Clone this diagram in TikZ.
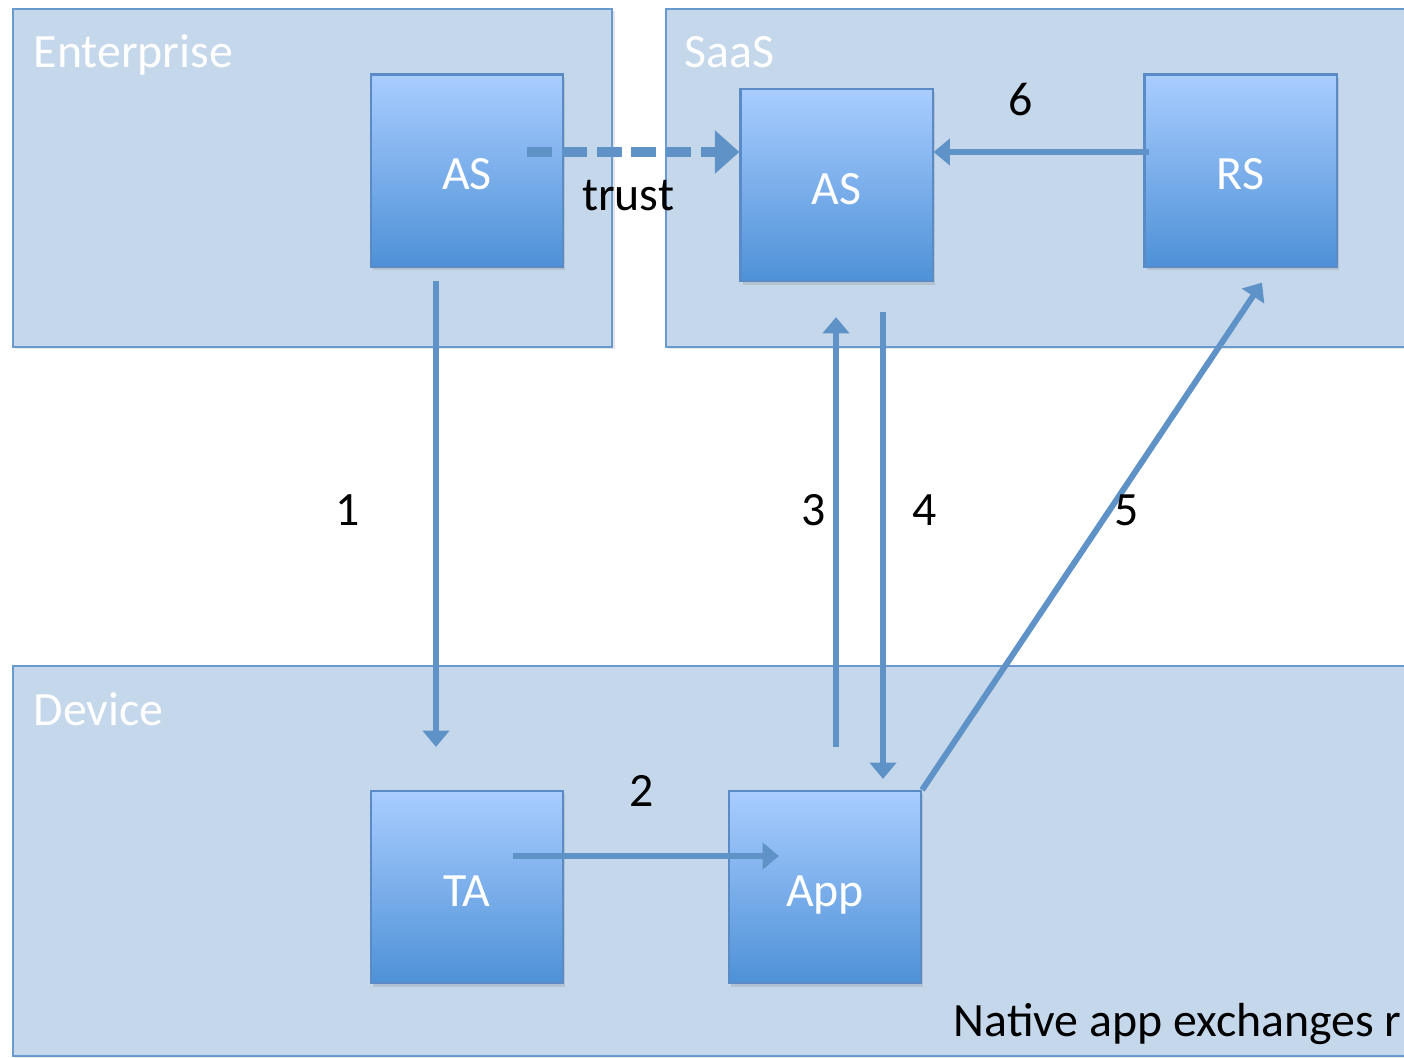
\documentclass[tikz,border=0pt]{standalone}
\usepackage{xcolor}
\usepackage{fontspec}
\setmainfont{Carlito}
\usepackage{tikz}
\usetikzlibrary{shapes,arrows.meta,positioning,shadows}

\definecolor{zonefill}{HTML}{C5D7EB}
\definecolor{zoneline}{HTML}{6A99CF}
\definecolor{boxtop}{HTML}{A9CDFF}
\definecolor{boxbottom}{HTML}{4E91D7}
\definecolor{boxline}{HTML}{5B8BC7}
\definecolor{flowcol}{HTML}{5F93C8}

\begin{document}
\begin{tikzpicture}[
        x=0.01cm, y=-0.01cm,
        font=\fontsize{13.6pt}{16pt}\selectfont,
        zone/.style={rectangle, fill=zonefill, draw=zoneline, line width=0.6pt, anchor=north west,
            drop shadow={shadow xshift=0.6pt, shadow yshift=-0.6pt, opacity=0.2}},
        zonetitle/.style={anchor=base west, text=white, inner sep=0pt},
        party/.style={rectangle, minimum width=1.92cm, minimum height=1.92cm, draw=boxline, line width=0.6pt,
            top color=boxtop, bottom color=boxbottom, text=white, text height=11pt, text depth=0pt,
            drop shadow={shadow xshift=0.6pt, shadow yshift=-1pt, opacity=0.25}},
        flow/.style={draw=flowcol, line width=1.7pt, -{Triangle[width=7.4pt, length=4.6pt]}},
        trustflow/.style={draw=flowcol, line width=2.6pt, dash pattern=on 7.1pt off 2.8pt,
            -{Triangle[width=12pt, length=7pt]}},
        step label/.style={anchor=base, inner sep=0pt, text=black}]

    \clip (0,0) rectangle (1404,1057);
    \useasboundingbox (0,0) rectangle (1404,1057);

    % domains
    \node[zone, minimum width=5.99cm, minimum height=3.38cm] (ent) at (12,8) {};
    \node[zone, minimum width=7.55cm, minimum height=3.38cm] (saas) at (665,8) {};
    \node[zone, minimum width=14.08cm, minimum height=3.90cm] (dev) at (12,665) {};
    \node[zonetitle] (entTitle) at (33,67) {Enterprise};
    \node[zonetitle] (saasTitle) at (684,67) {SaaS};
    \node[zonetitle] (devTitle) at (33,725) {Device};

    % parties
    \node[party] (entAS) at (467,170.5) {AS};
    \node[party] (saasAS) at (836.5,185) {AS};
    \node[party] (rs) at (1240.5,170.5) {RS};
    \node[party] (ta) at (467,887) {TA};
    \node[party] (app) at (825,887) {App};

    % flows
    \draw[trustflow] ([shift={(60,-18.5)}]entAS.center) -- ([shift={(0,-33)}]saasAS.west);
    \draw[flow] ([shift={(-31,13)}]entAS.south) -- ([shift={(-31,-43)}]ta.north);
    \draw[flow] ([shift={(46,-31)}]ta.center) -- ([shift={(51,-31)}]app.west);
    \draw[flow] ([shift={(11,-43)}]app.north) -- ([shift={(-0.5,35)}]saasAS.south);
    \draw[flow] ([shift={(46.5,30)}]saasAS.south) -- ([shift={(58,-11)}]app.north);
    \draw[flow] (app.north east) -- ([shift={(21.5,15)}]rs.south);
    \draw[flow] ([shift={(6,-18.5)}]rs.west) -- ([shift={(0,-33)}]saasAS.east);

    \node[step label] (trustLbl) at (628,210) {trust};
    \node[step label] (lbl1) at (348,525) {1};
    \node[step label] (lbl2) at (642,806) {2};
    \node[step label] (lbl3) at (814,525) {3};
    \node[step label] (lbl4) at (925,525) {4};
    \node[step label] (lbl5) at (1127,525) {5};
    \node[step label] (lbl6) at (1021,115) {6};

    \node[anchor=base west, inner sep=0pt] (note) at (953,1036) {Native app exchanges r};
\end{tikzpicture}
\end{document}
